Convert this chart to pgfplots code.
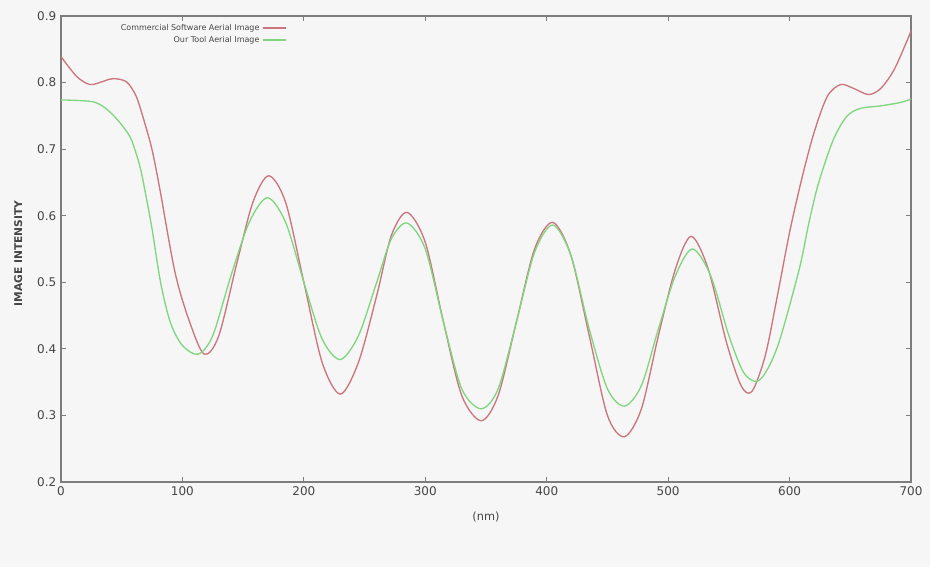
\documentclass[border=0pt]{standalone}
\usepackage{fontspec}
\setmainfont{DejaVu Sans}
\usepackage{pgfplots}
\pgfplotsset{compat=1.18}

\definecolor{bgcol}{RGB}{246,246,246}
\definecolor{axcol}{RGB}{125,125,125}
\definecolor{txtcol}{RGB}{70,70,70}
\definecolor{comred}{RGB}{203,118,126}
\definecolor{toolgreen}{RGB}{128,214,128}

\begin{document}
\begin{tikzpicture}
% page background (930x567 px at 0.75pt per px)
\fill[bgcol] (-45.75pt,-63.75pt) rectangle (651.75pt,361.5pt);
\begin{axis}[
    at={(0pt,0pt)}, anchor=south west,
    scale only axis,
    width=637.5pt, height=349.5pt,
    xmin=0, xmax=700, ymin=0.2, ymax=0.9,
    xtick={0,100,...,700},
    ytick={0.2,0.3,...,0.9},
    yticklabel style={/pgf/number format/fixed,/pgf/number format/precision=1,/pgf/number format/fixed zerofill},
    /pgf/number format/assume math mode=true,
    ticklabel style={font=\fontsize{9}{10}\selectfont, text=txtcol},
    tick align=inside,
    major tick length=4pt,
    tick style={axcol, line width=0.8pt},
    axis line style={axcol, line width=1.1pt},
    axis background/.style={fill=bgcol},
    xlabel={(nm)},
    xlabel style={at={(axis description cs:0.5,0)}, anchor=center, yshift=-26pt, font=\fontsize{8.5}{10}\selectfont, text=txtcol},
    ylabel={\bfseries IMAGE INTENSITY},
    ylabel style={at={(axis description cs:0,0.49)}, anchor=center, yshift=32pt, font=\fontsize{8}{10}\selectfont, text=txtcol},
    legend plot pos=right,
    legend cell align=right,
    legend style={at={(axis description cs:0.27,0.995)}, anchor=north east, draw=none, fill=none,
                  font=\fontsize{6}{7}\selectfont, text=txtcol, row sep=-1pt},
]
\addplot[comred, line width=1pt, smooth] coordinates {
(0,0.839) (13,0.809) (24,0.797) (35,0.802) (43,0.806) (54,0.801) (62,0.779) (69,0.739)
(75,0.699) (81.5,0.639) (94,0.514) (106,0.44) (118,0.392) (130,0.42) (145,0.53) (158,0.62)
(171,0.66) (185,0.62) (200,0.50) (215,0.38) (230,0.332) (245,0.38) (260,0.48) (272,0.57)
(285,0.605) (300,0.56) (315,0.44) (330,0.33) (346,0.292) (360,0.33) (375,0.44) (390,0.55)
(405,0.59) (420,0.54) (435,0.42) (450,0.30) (464,0.268) (478,0.31) (492,0.42) (506,0.52)
(519,0.569) (533,0.52) (548,0.41) (560,0.345) (569,0.336) (580,0.39) (590,0.48) (600,0.575)
(610,0.655) (620,0.724) (631,0.779) (642,0.797) (653,0.791) (665,0.782) (675,0.791) (686,0.819)
(697,0.864) (700,0.878)
};
\addlegendentry{Commercial Software Aerial Image}
\addplot[toolgreen, line width=1pt, smooth] coordinates {
(0,0.774) (15,0.773) (26.6,0.771) (34.8,0.764) (43,0.751) (51,0.734) (58,0.714) (65,0.674)
(69,0.639) (75,0.58) (82,0.50) (90,0.44) (100,0.405) (113,0.392) (125,0.42) (140,0.51)
(155,0.59) (170,0.627) (185,0.59) (200,0.50) (215,0.415) (230,0.384) (245,0.42) (260,0.50)
(272,0.565) (285,0.589) (300,0.55) (315,0.44) (330,0.34) (346,0.31) (360,0.34) (375,0.44)
(390,0.545) (405,0.586) (420,0.54) (435,0.43) (450,0.34) (464,0.314) (478,0.345) (492,0.43)
(506,0.51) (520,0.55) (535,0.51) (550,0.42) (562,0.365) (573,0.351) (582,0.37) (592,0.414)
(608,0.52) (616,0.59) (624,0.65) (636,0.714) (647,0.749) (658,0.761) (675,0.765) (691,0.77)
(700,0.775)
};
\addlegendentry{Our Tool Aerial Image}
\end{axis}
\end{tikzpicture}
\end{document}
